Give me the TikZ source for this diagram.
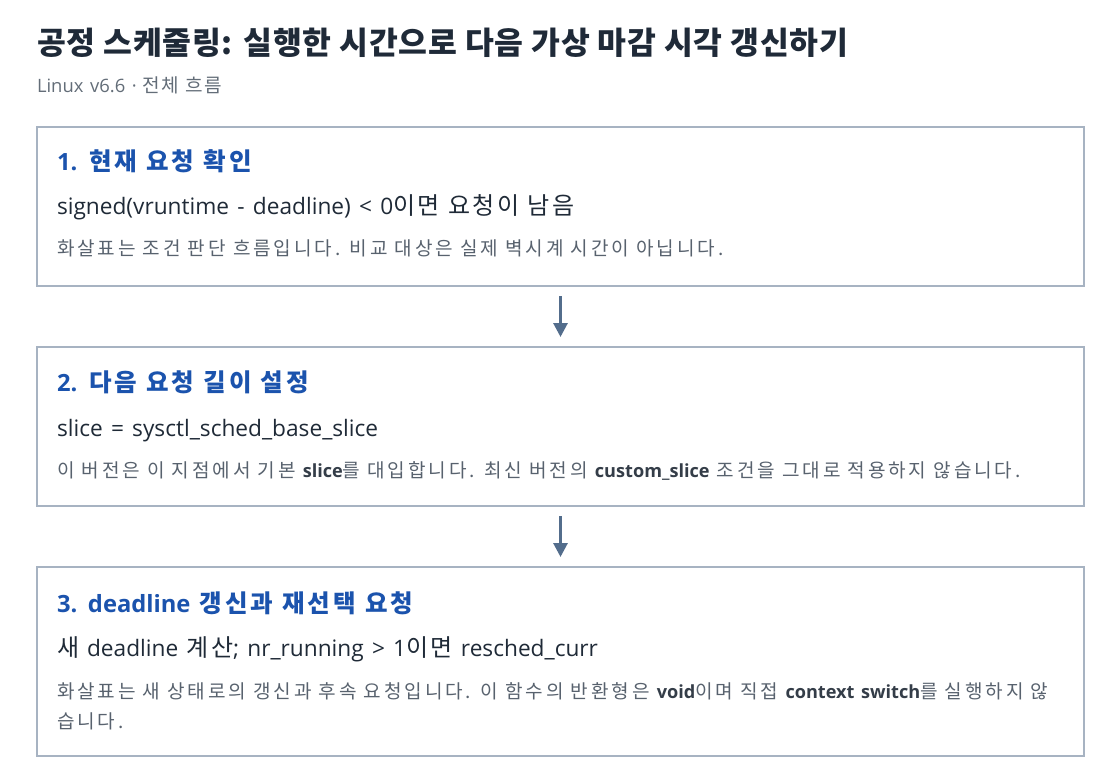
\documentclass[tikz,border=0pt]{standalone}
\usepackage{fontspec}
\setmainfont{Noto Sans CJK KR}
\newfontfamily\krTitle{Noto Sans CJK KR}[LetterSpace=2.5]
\newfontfamily\krSub{Noto Sans CJK KR}[LetterSpace=8]
\newfontfamily\krHead{Noto Sans CJK KR}[LetterSpace=13]
\newfontfamily\krMain{Noto Sans CJK KR}[LetterSpace=11]
\newfontfamily\krNote{Noto Sans CJK KR}[LetterSpace=15]
\newfontfamily\latf{Open Sans}
\newfontfamily\latm{Open Sans}[WordSpace=1.4]
\usetikzlibrary{arrows.meta}
\definecolor{titlec}{HTML}{1F2A38}
\definecolor{subc}{HTML}{636D78}
\definecolor{boxc}{HTML}{A7B3C2}
\definecolor{headc}{HTML}{1B53AD}
\definecolor{mainc}{HTML}{1F2A37}
\definecolor{notec}{HTML}{58626E}
\definecolor{codec}{HTML}{343D48}
\definecolor{arrc}{HTML}{536D8C}
\def\latsz{12}
\def\latfam{\latf}
\newcommand{\La}[1]{{\latfam\fontsize{\latsz}{\latsz}\selectfont #1}}
\newcommand{\codeb}[1]{{\bfseries\color{codec}\La{#1}}}
\tikzset{
  stepbox/.style={draw=boxc, line width=0.9pt, fill=white, inner sep=0pt, outer sep=0pt,
    anchor=north west, minimum width=785.25pt},
  txt/.style={anchor=base west, inner sep=0pt, outer sep=0pt},
  titletxt/.style={txt, text=titlec, font=\krTitle\fontsize{23.5}{28}\selectfont\bfseries},
  subtxt/.style={txt, text=subc, font=\def\latsz{13.8}\krSub\fontsize{14.3}{16}\selectfont},
  headtxt/.style={txt, text=headc, font=\def\latsz{17.8}\krHead\fontsize{18.4}{24}\selectfont\bfseries},
  maintxt/.style={txt, text=mainc, font=\def\latsz{17}\def\latfam{\latm}\krMain\fontsize{18}{22}\selectfont},
  notetxt/.style={txt, text=notec, font=\def\latsz{13.6}\krNote\fontsize{14.3}{18}\selectfont},
  flow/.style={draw=arrc, line width=2.2pt, shorten <=7.5pt, shorten >=7.5pt,
    -{Triangle[width=10.5pt,length=10.5pt]}}
}
\begin{document}
\begin{tikzpicture}[x=0.75pt,y=-0.75pt]
\useasboundingbox[fill=white] (0,0) rectangle (1120,784);

\node[titletxt] (title) at (37,55) {공정 스케줄링: 실행한 시간으로 다음 가상 마감 시각 갱신하기};
\node[subtxt] (sub) at (37,93) {\La{Linux v6.6 ·} 전체 흐름};

\node[stepbox, minimum height=119.25pt] (b1) at (37,127) {};
\node[stepbox, minimum height=119.25pt] (b2) at (37,347) {};
\node[stepbox, minimum height=141.75pt] (b3) at (37,567) {};

\node[headtxt] (h1) at (57,171) {\La{1.} 현재 요청 확인};
\node[maintxt] (m1) at (57,215) {\La{signed(vruntime - deadline) < 0}이면 요청이 남음};
\node[notetxt] (n1) at (57,256) {화살표는 조건 판단 흐름입니다. 비교 대상은 실제 벽시계 시간이 아닙니다.};

\node[headtxt] (h2) at (57,391) {\La{2.} 다음 요청 길이 설정};
\node[maintxt] (m2) at (57,436) {\La{slice = sysctl\_sched\_base\_slice}};
\node[notetxt] (n2) at (57,477) {이 버전은 이 지점에서 기본 \codeb{slice}를 대입합니다. 최신 버전의 \codeb{custom\_slice} 조건을 그대로 적용하지 않습니다.};

\node[headtxt] (h3) at (57,612) {\La{3. deadline} 갱신과 재선택 요청};
\node[maintxt] (m3) at (57,656) {새 \La{deadline} 계산\La{; nr\_running > 1}이면 \La{resched\_curr}};
\node[notetxt] (n3a) at (57,698) {화살표는 새 상태로의 갱신과 후속 요청입니다. 이 함수의 반환형은 \codeb{void}이며 직접 \codeb{context switch}를 실행하지 않};
\node[notetxt] (n3b) at (57,728) {습니다.};

\draw[flow] (b1.south) -- (b2.north);
\draw[flow] (b2.south) -- (b3.north);
\end{tikzpicture}
\end{document}
